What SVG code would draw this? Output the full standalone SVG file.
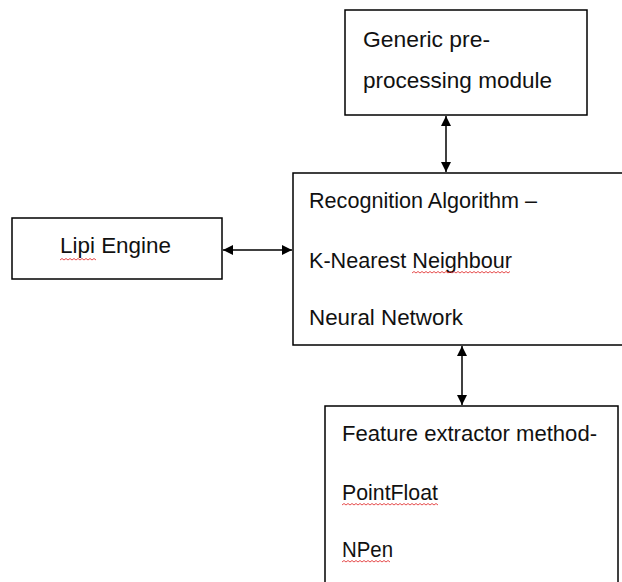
<svg xmlns="http://www.w3.org/2000/svg" width="622" height="582" viewBox="0 0 622 582">
<defs>
<style>
.box{fill:#fff;stroke:#000;stroke-width:1.5}
.t{font-family:"Liberation Sans",Arial,sans-serif;font-size:22px;fill:#111}
.c{stroke:#000;stroke-width:1.5;fill:none}
.sq{stroke:#e02020;stroke-width:0.8;fill:none}
</style>
<marker id="ah" viewBox="0 0 10 10" refX="10" refY="5" markerWidth="11" markerHeight="10" markerUnits="userSpaceOnUse" orient="auto-start-reverse">
<path d="M0,0 L10,5 L0,10 Z" fill="#000"/>
</marker>
</defs>
<rect width="622" height="582" fill="#fff"/>
<g id="connectors">
<line class="c" x1="446" y1="116" x2="446" y2="172" marker-start="url(#ah)" marker-end="url(#ah)"/>
<line class="c" x1="223" y1="250" x2="292" y2="250" marker-start="url(#ah)" marker-end="url(#ah)"/>
<line class="c" x1="462" y1="346" x2="462" y2="405" marker-start="url(#ah)" marker-end="url(#ah)"/>
</g>
<g id="generic">
<rect class="box" x="345" y="10" width="242" height="105"/>
<text class="t" x="363" y="47" textLength="127" lengthAdjust="spacingAndGlyphs">Generic pre-</text>
<text class="t" x="363" y="88" textLength="189" lengthAdjust="spacingAndGlyphs">processing module</text>
</g>
<g id="lipi">
<rect class="box" x="12" y="218" width="210" height="61"/>
<text class="t" x="60" y="253" textLength="111" lengthAdjust="spacingAndGlyphs">Lipi Engine</text>
<path class="sq" d="M60,260 l2,-1.5 l2,1.5 l2,-1.5 l2,1.5 l2,-1.5 l2,1.5 l2,-1.5 l2,1.5 l2,-1.5 l2,1.5 l2,-1.5 l2,1.5 l2,-1.5 l2,1.5 l2,-1.5 l2,1.5 l2,-1.5 l2,1.5"/>
</g>
<g id="recognition">
<rect class="box" x="293" y="173" width="332" height="172"/>
<text class="t" x="309" y="208" textLength="228" lengthAdjust="spacingAndGlyphs">Recognition Algorithm –</text>
<text class="t" x="309" y="268" textLength="203" lengthAdjust="spacingAndGlyphs">K-Nearest Neighbour</text>
<path class="sq" d="M412,273 l2,-1.5 l2,1.5 l2,-1.5 l2,1.5 l2,-1.5 l2,1.5 l2,-1.5 l2,1.5 l2,-1.5 l2,1.5 l2,-1.5 l2,1.5 l2,-1.5 l2,1.5 l2,-1.5 l2,1.5 l2,-1.5 l2,1.5 l2,-1.5 l2,1.5 l2,-1.5 l2,1.5 l2,-1.5 l2,1.5 l2,-1.5 l2,1.5 l2,-1.5 l2,1.5 l2,-1.5 l2,1.5 l2,-1.5 l2,1.5 l2,-1.5 l2,1.5 l2,-1.5 l2,1.5 l2,-1.5 l2,1.5 l2,-1.5 l2,1.5 l2,-1.5 l2,1.5 l2,-1.5 l2,1.5 l2,-1.5 l2,1.5 l2,-1.5 l2,1.5 l2,-1.5"/>
<text class="t" x="309" y="325" textLength="154" lengthAdjust="spacingAndGlyphs">Neural Network</text>
</g>
<g id="feature">
<rect class="box" x="325" y="406" width="293" height="180"/>
<text class="t" x="342" y="441" textLength="255" lengthAdjust="spacingAndGlyphs">Feature extractor method-</text>
<text class="t" x="342" y="500" textLength="96" lengthAdjust="spacingAndGlyphs">PointFloat</text>
<path class="sq" d="M342,505 l2,-1.5 l2,1.5 l2,-1.5 l2,1.5 l2,-1.5 l2,1.5 l2,-1.5 l2,1.5 l2,-1.5 l2,1.5 l2,-1.5 l2,1.5 l2,-1.5 l2,1.5 l2,-1.5 l2,1.5 l2,-1.5 l2,1.5 l2,-1.5 l2,1.5 l2,-1.5 l2,1.5 l2,-1.5 l2,1.5 l2,-1.5 l2,1.5 l2,-1.5 l2,1.5 l2,-1.5 l2,1.5 l2,-1.5 l2,1.5 l2,-1.5 l2,1.5 l2,-1.5 l2,1.5 l2,-1.5 l2,1.5 l2,-1.5 l2,1.5 l2,-1.5 l2,1.5 l2,-1.5 l2,1.5 l2,-1.5 l2,1.5 l2,-1.5 l2,1.5"/>
<text class="t" x="342" y="557" textLength="51" lengthAdjust="spacingAndGlyphs">NPen</text>
<path class="sq" d="M342,562 l2,-1.5 l2,1.5 l2,-1.5 l2,1.5 l2,-1.5 l2,1.5 l2,-1.5 l2,1.5 l2,-1.5 l2,1.5 l2,-1.5 l2,1.5 l2,-1.5 l2,1.5 l2,-1.5 l2,1.5 l2,-1.5 l2,1.5 l2,-1.5 l2,1.5 l2,-1.5 l2,1.5 l2,-1.5 l2,1.5"/>
</g>
</svg>
